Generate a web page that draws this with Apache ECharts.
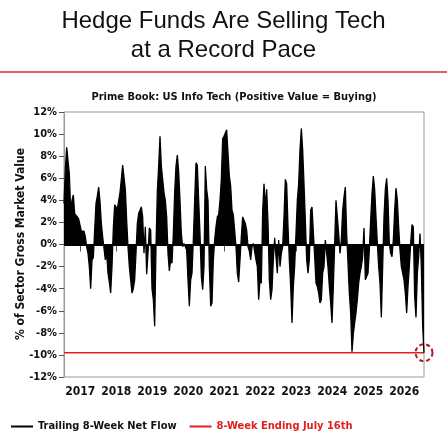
<!DOCTYPE html>
<html>
<head>
<meta charset="utf-8">
<script src="https://cdn.jsdelivr.net/npm/echarts@6/dist/echarts.min.js"></script>
<style>
  html, body { margin: 0; padding: 0; background: #fff; }
  #chart { width: 447px; height: 447px; }
</style>
</head>
<body>
<div id="chart"></div>
<script>
// x positions: one reading roughly every two weeks, mid-2016 to mid-2026
const START_YEAR = 2016.55;
const STEP = 1 / 27;

// trailing 8-week net flow, % of sector gross market value
const netFlow = [
  3.7, 6.8, 8.8, 8.7, 6.4, 3.1, 4.0, 4.5, 2.8, 2.7,
  2.5, 2.3, 2.2, 1.2, 1.3, 1.2, 0.7, -0.2, -0.8, -2.0,
  -4.0, -1.4, -1.2, 1.3, 3.7, 4.4, 5.2, 3.9, 1.9, 0.7,
  0.6, -1.4, -0.8, -2.6, -3.4, -4.4, -2.0, 1.5, 3.6, 3.4,
  3.2, 3.1, 4.7, 5.9, 7.2, 7.1, 5.0, 2.2, -0.2, -2.0,
  -3.2, -4.4, -4.0, -3.2, -0.8, 1.9, 2.8, 3.1, 3.4, 2.5,
  -0.8, 1.6, -2.7, -0.8, 1.5, 1.3, -4.0, -5.0, -7.4, -0.2,
  4.8, 7.1, 9.8, 7.1, 5.9, 4.7, 4.0, 2.5, -0.8, -2.4,
  -1.4, -1.7, 1.0, 4.7, 7.1, 8.1, 6.6, 4.0, 1.0, -0.2,
  0.1, -0.2, -0.5, -3.2, -5.6, -3.2, -2.6, 0.4, 4.0, 7.4,
  7.2, 4.0, 1.0, -2.9, -4.1, -2.0, 7.1, 5.0, 4.0, -2.0,
  -5.6, -5.3, -1.4, 0.4, 1.6, 2.5, 2.7, 4.0, 5.9, 9.6,
  9.8, 10.1, 10.4, 8.3, 6.2, 5.3, 3.1, 2.7, 2.7, -0.2,
  -2.6, -3.4, -1.4, 0.7, 2.5, 2.2, 1.9, 1.3, -0.2, -0.6,
  -1.4, -0.2, 0.1, 0.1, -1.4, -2.0, -5.0, -3.2, -3.5, 3.0,
  5.5, 3.4, 5.0, 2.0, -3.2, -5.0, -4.1, -1.4, 0.6, -1.1,
  -2.6, 0.4, -2.0, -0.8, -0.2, 2.5, 5.9, 5.5, 1.6, -1.4,
  -3.8, -7.1, -3.8, -2.0, 1.0, 4.0, 5.5, 8.6, 10.5, 8.6,
  5.5, 2.2, -1.4, -2.6, -1.4, 3.1, 3.4, 3.3, -1.1, -3.5,
  -3.8, -4.4, -5.3, -5.0, -2.6, -2.0, 0.4, 0.4, -2.0, -3.8,
  -5.3, -7.1, -3.8, 0.1, 4.0, 4.0, 1.0, -0.8, 0.4, 3.1,
  4.3, 5.2, 1.0, -1.7, -4.4, -6.2, -9.7, -8.1, -7.1, -6.2,
  -5.0, -3.5, -2.6, -2.0, -1.1, 1.5, -3.2, -3.2, -2.6, -0.5,
  2.2, 4.6, 6.2, 5.0, 2.5, 0.1, -2.0, -3.5, -6.6, -2.0,
  2.5, 5.0, 6.0, 4.0, 0.1, -0.8, -1.1, 0.4, 3.1, 5.1,
  4.0, 1.6, -0.5, -2.0, -2.6, -3.2, -4.4, -6.2, -3.8, -2.0,
  0.1, 1.8, 1.6, -4.7, -6.6, -2.6, -1.1, 1.0, -2.0, -7.4,
  -9.8
];

const latestLevel = -9.8; // 8 weeks ending July 16th
const yearTicks = [2017, 2018, 2019, 2020, 2021, 2022, 2023, 2024, 2025, 2026];

const FONT = "'Liberation Sans Narrow', 'DejaVu Sans Condensed', Roboto, sans-serif";
const END_YEAR = START_YEAR + (netFlow.length - 1) * STEP;

const flowData = netFlow.map((v, i) => [START_YEAR + i * STEP, v]);
const latestData = [[START_YEAR, latestLevel], [END_YEAR, latestLevel]];

var chart = echarts.init(document.getElementById("chart"));
var option = {
  animation: false,
  title: [
    {
      text: "Hedge Funds Are Selling Tech\nat a Record Pace",
      left: "center",
      top: 2,
      textStyle: {
        fontFamily: "'Liberation Sans', Arial, sans-serif",
        fontWeight: "normal",
        fontSize: 24,
        lineHeight: 29,
        color: "#111",
      },
    },
    {
      text: "Prime Book: US Info Tech (Positive Value = Buying)",
      left: 229,
      textAlign: "center",
      top: 87,
      textStyle: { fontFamily: FONT, fontWeight: "bold", fontSize: 11, color: "#111" },
    },
  ],
  graphic: [
    {
      type: "line",
      shape: { x1: 0, y1: 72, x2: 447, y2: 72 },
      style: { stroke: "#d42a2a", lineWidth: 1.5 },
    },
    {
      // y axis title
      type: "text",
      x: 21,
      y: 244,
      rotation: Math.PI / 2,
      style: {
        text: "% of Sector Gross Market Value",
        fill: "#111",
        font: "bold 12px " + FONT,
        align: "center",
        verticalAlign: "middle",
      },
    },
  ],
  legend: {
    left: 6,
    top: 416,
    icon: "rect",
    itemWidth: 22,
    itemHeight: 2,
    itemGap: 13,
    textStyle: { fontFamily: FONT, fontWeight: "bold", fontSize: 11, color: "#111" },
    data: [
      { name: "Trailing 8-Week Net Flow" },
      { name: "8-Week Ending July 16th", textStyle: { color: "#e02020" } },
    ],
  },
  grid: {
    left: 64,
    right: 23,
    top: 112,
    bottom: 70,
    show: true,
    borderColor: "#9a9a9a",
    borderWidth: 1,
  },
  xAxis: {
    type: "value",
    min: START_YEAR,
    max: END_YEAR,
    splitLine: { show: false },
    axisLine: { lineStyle: { color: "#9a9a9a" } },
    axisTick: { customValues: yearTicks, length: 7, lineStyle: { color: "#555" } },
    axisLabel: {
      customValues: yearTicks,
      formatter: (v) => String(Math.round(v)),
      fontFamily: FONT,
      fontWeight: "bold",
      fontSize: 12,
      color: "#111",
      margin: 9,
    },
  },
  yAxis: {
    type: "value",
    min: -12,
    max: 12,
    interval: 2,
    splitLine: { show: false },
    axisLine: { show: true, lineStyle: { color: "#9a9a9a" } },
    axisTick: { show: true, length: 5, lineStyle: { color: "#555" } },
    axisLabel: {
      formatter: "{value}%",
      fontFamily: FONT,
      fontWeight: "bold",
      fontSize: 11,
      color: "#111",
      margin: 7,
    },
  },
  series: [
    {
      name: "8-Week Ending July 16th",
      type: "line",
      data: latestData,
      symbol: "none",
      z: 1,
      lineStyle: { color: "#e02020", width: 1.5 },
      itemStyle: { color: "#e02020" },
      markPoint: {
        silent: true,
        label: { show: false },
        data: [
          {
            coord: [END_YEAR, latestLevel],
            symbol: "circle",
            symbolSize: 17,
            itemStyle: {
              color: "rgba(0,0,0,0)",
              borderColor: "#b01818",
              borderWidth: 2,
              borderType: [4, 3],
            },
          },
        ],
      },
    },
    {
      name: "Trailing 8-Week Net Flow",
      type: "line",
      data: flowData,
      symbol: "none",
      z: 2,
      lineStyle: { color: "#000", width: 1.3 },
      itemStyle: { color: "#000" },
      areaStyle: { color: "#000", opacity: 1 },
      markLine: {
        silent: true,
        symbol: "none",
        label: { show: false },
        lineStyle: { color: "#000", width: 2, type: "solid" },
        data: [{ yAxis: 0 }],
      },
    },
  ],
};
chart.setOption(option);
</script>
</body>
</html>
